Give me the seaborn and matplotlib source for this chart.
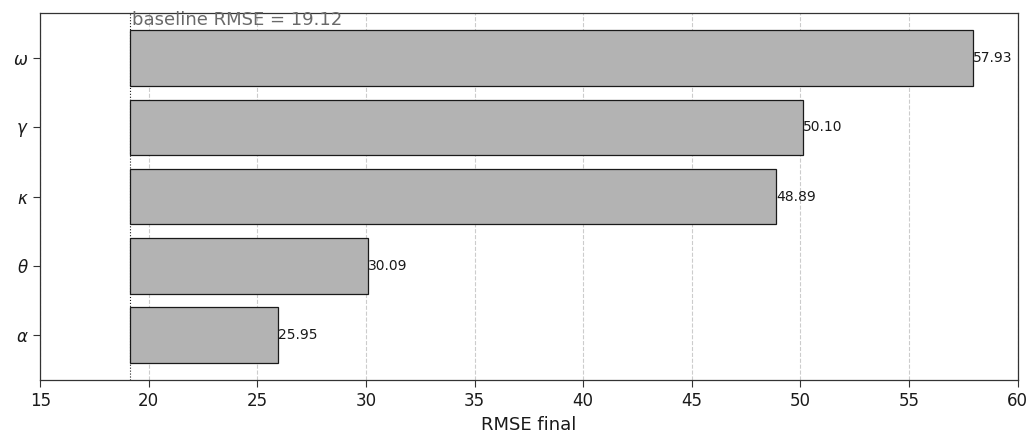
import matplotlib
matplotlib.use("Agg")
import matplotlib.pyplot as plt
import seaborn as sns
import pandas as pd

# RMSE after perturbing each parameter, compared against the baseline fit
params = [r"$\omega$", r"$\gamma$", r"$\kappa$", r"$\theta$", r"$\alpha$"]
rmse_final = [57.93, 50.10, 48.89, 30.09, 25.95]
baseline_rmse = 19.12

df = pd.DataFrame({"param": params, "rmse": rmse_final})

sns.set_style("white")
fig, ax = plt.subplots(figsize=(10.31, 4.36), dpi=100)

sns.barplot(data=df, x="rmse", y="param", order=params, orient="h",
            color="#b3b3b3", saturation=1, edgecolor="#1a1a1a", linewidth=0.9,
            width=0.8, ax=ax, zorder=3)

# bars start at the baseline RMSE rather than at zero
for patch, val in zip(ax.patches, rmse_final):
    patch.set_x(baseline_rmse)
    patch.set_width(val - baseline_rmse)
    ax.text(val, patch.get_y() + patch.get_height() / 2, f"{val:.2f}",
            ha="left", va="center", fontsize=10, color="#1a1a1a", zorder=4)

ax.axvline(baseline_rmse, color="#1a1a1a", linestyle=":", linewidth=0.8, zorder=2)
ax.text(baseline_rmse + 0.1, -0.42, f"baseline RMSE = {baseline_rmse:.2f}",
        ha="left", va="bottom", fontsize=13, color="dimgray", zorder=4)

ax.set_xlim(15, 60)
ax.set_ylim(4.65, -0.65)
ax.set_xticks(range(15, 61, 5))
ax.xaxis.grid(True, linestyle="--", color="#cccccc", linewidth=0.8, zorder=0)
ax.yaxis.grid(False)
ax.set_axisbelow(True)
ax.set_xlabel("RMSE final", fontsize=13, color="#1a1a1a")
ax.set_ylabel("")
ax.tick_params(axis="both", labelsize=12, length=5, color="#333333",
               labelcolor="#1a1a1a", direction="out")
ax.tick_params(axis="x", bottom=True)
ax.tick_params(axis="y", left=True)
for s in ax.spines.values():
    s.set_visible(True)
    s.set_color("#333333")
    s.set_linewidth(0.9)

fig.subplots_adjust(left=0.039, right=0.987, top=0.97, bottom=0.128)
fig.savefig("out.png", dpi=100)
